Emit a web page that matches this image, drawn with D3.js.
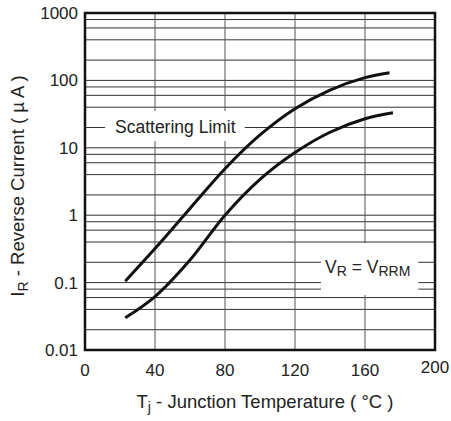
<!DOCTYPE html>
<html lang="en">
<head>
<meta charset="utf-8">
<title>Reverse Current vs Junction Temperature</title>
<script src="https://d3js.org/d3.v7.min.js"></script>
<style>
  body { margin: 0; background: #fff; }
  text { font-family: "Liberation Sans", Arial, Helvetica, sans-serif; fill: #222; }
</style>
</head>
<body>
<script>
// axis ticks
var tempTicks = [0, 40, 80, 120, 160, 200];
var currentTicks = [0.01, 0.1, 1, 10, 100, 1000];
var gridSteps = [1, 2, 4, 6, 8];

// scattering limit (upper curve)
var limitTemp = [23, 40, 60, 80, 100, 120, 140, 160, 174];
var limitCurrent = [0.105, 0.32, 1.26, 4.9, 15.5, 38, 72, 110, 130];

// typical (lower curve)
var typTemp = [23, 40, 60, 80, 100, 120, 140, 160, 176];
var typCurrent = [0.03, 0.062, 0.216, 1.0, 3.4, 8.5, 17, 27, 33];

var w = 451, h = 421;
var plotLeft = 85, plotRight = 435, plotTop = 13, plotBottom = 350;

var svg = d3.select("body").append("svg")
    .attr("width", w)
    .attr("height", h);

var x = d3.scaleLinear().domain([0, 200]).range([plotLeft, plotRight]);
var y = d3.scaleLog().domain([0.01, 1000]).range([plotBottom, plotTop]);

// horizontal grid: 1,2,4,6,8 per decade
var hLines = [];
currentTicks.slice(0, -1).forEach(function(d) {
  gridSteps.forEach(function(s) { hLines.push(d * s); });
});
hLines.push(1000);

svg.append("g").selectAll("line")
  .data(hLines)
  .enter().append("line")
    .attr("x1", plotLeft).attr("x2", plotRight)
    .attr("y1", function(d) { return y(d); })
    .attr("y2", function(d) { return y(d); })
    .attr("stroke", "#333")
    .attr("stroke-width", 1);

// vertical grid
svg.append("g").selectAll("line")
  .data(tempTicks.slice(1, -1))
  .enter().append("line")
    .attr("x1", function(d) { return x(d); })
    .attr("x2", function(d) { return x(d); })
    .attr("y1", plotTop).attr("y2", plotBottom)
    .attr("stroke", "#555")
    .attr("stroke-width", 1);

// y tick labels
svg.append("g").selectAll("text")
  .data(currentTicks)
  .enter().append("text")
    .attr("x", plotLeft - 7)
    .attr("y", function(d) { return y(d) + 6; })
    .attr("text-anchor", "end")
    .attr("font-size", 17)
    .text(function(d) { return d; });

// x tick labels (the 200 sits a little higher in the original)
svg.append("g").selectAll("text")
  .data(tempTicks)
  .enter().append("text")
    .attr("x", function(d) { return x(d); })
    .attr("y", function(d) { return d === 200 ? 373 : 376; })
    .attr("text-anchor", "middle")
    .attr("font-size", 17)
    .text(function(d) { return d; });

// labels with white boxes hiding the grid
function boxedLabel(tx, ty, padL, padR, padT, padB, build) {
  var g = svg.append("g");
  var rect = g.append("rect").attr("fill", "#fff");
  var t = g.append("text").attr("x", tx).attr("y", ty).attr("font-size", 17.5);
  build(t);
  var b = t.node().getBBox();
  rect.attr("x", b.x - padL).attr("y", b.y - padT)
      .attr("width", b.width + padL + padR)
      .attr("height", b.height + padT + padB);
}

boxedLabel(115, 133, 10, 9, 6, 4, function(t) {
  t.text("Scattering Limit");
});

boxedLabel(325, 273, 4, 8, 14, 16, function(t) {
  t.append("tspan").text("V");
  t.append("tspan").attr("font-size", 14).attr("dy", 3).text("R");
  t.append("tspan").attr("dy", -3).text(" = V");
  t.append("tspan").attr("font-size", 14).attr("dy", 3).text("RRM");
});

// curves
var line = d3.line()
  .x(function(d) { return x(d[0]); })
  .y(function(d) { return y(d[1]); })
  .curve(d3.curveCatmullRom);

svg.append("path")
  .datum(d3.zip(limitTemp, limitCurrent))
  .attr("d", line)
  .attr("fill", "none")
  .attr("stroke", "#111")
  .attr("stroke-width", 3);

svg.append("path")
  .datum(d3.zip(typTemp, typCurrent))
  .attr("d", line)
  .attr("fill", "none")
  .attr("stroke", "#111")
  .attr("stroke-width", 3);

// frame
svg.append("rect")
  .attr("x", plotLeft).attr("y", plotTop)
  .attr("width", plotRight - plotLeft).attr("height", plotBottom - plotTop)
  .attr("fill", "none")
  .attr("stroke", "#111")
  .attr("stroke-width", 2.5);

// axis titles
var xt = svg.append("text")
  .attr("x", 265).attr("y", 408)
  .attr("text-anchor", "middle")
  .attr("font-size", 18.5);
xt.append("tspan").text("T");
xt.append("tspan").attr("font-size", 14).attr("dy", 4).text("j");
xt.append("tspan").attr("dy", -4).text(" - Junction Temperature ( \u00B0C )");

var yt = svg.append("text")
  .attr("transform", "translate(24,186) rotate(-90)")
  .attr("text-anchor", "middle")
  .attr("font-size", 18.5);
yt.append("tspan").text("I");
yt.append("tspan").attr("font-size", 14).attr("dy", 4).text("R");
yt.append("tspan").attr("dy", -4).text(" - Reverse Current ( \u00B5 A )");
</script>
</body>
</html>
